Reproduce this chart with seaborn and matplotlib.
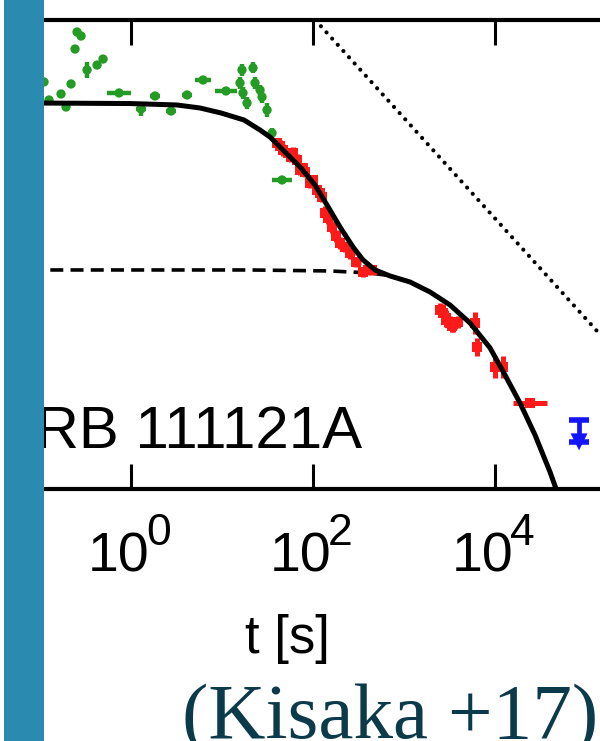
import numpy as np
import pandas as pd
import matplotlib
matplotlib.use("Agg")
import matplotlib.pyplot as plt
import seaborn as sns
from matplotlib.patches import Rectangle
from matplotlib.ticker import FixedLocator, NullLocator, NullFormatter
from matplotlib.transforms import blended_transform_factory, ScaledTranslation, Bbox, TransformedBbox

# ---------------- data (log10 values) ----------------
# optical (green) points: log10 t [s], log10 flux, half-widths in dex
green_logt = [-0.588, -0.544, -0.610, -0.478, -0.368, -0.302, -0.951, -0.654, -0.764, -0.896,
              -0.709, -0.126, 0.115, 0.269, 0.445, 0.621, 0.797, 1.049, 1.225, 1.346,
              1.203, 1.236, 1.280, 1.368, 1.423, 1.445, 1.500, 1.555, 1.665]
green_logf = [-7.132, -7.176, -7.319, -7.549, -7.495, -7.429, -7.681, -7.703, -7.813, -7.879,
              -7.956, -7.802, -7.978, -7.835, -8.000, -7.824, -7.659, -7.780, -7.549, -7.527,
              -7.692, -7.802, -7.912, -7.692, -7.769, -7.846, -7.989, -8.242, -8.758]
green_xerr = [0.02, 0.02, 0.02, 0.03, 0.03, 0.02, 0.03, 0.02, 0.02, 0.04,
              0.02, 0.13, 0.05, 0.05, 0.06, 0.05, 0.09, 0.12, 0.01, 0.01,
              0.03, 0.02, 0.01, 0.03, 0.02, 0.02, 0.01, 0.01, 0.11]
green_yerr = [0.03, 0.03, 0.03, 0.09, 0.04, 0.03, 0.03, 0.03, 0.03, 0.03,
              0.04, 0.03, 0.08, 0.04, 0.04, 0.04, 0.03, 0.03, 0.07, 0.06,
              0.07, 0.07, 0.07, 0.07, 0.06, 0.07, 0.08, 0.05, 0.03]

# X-ray (red) points
red_logt = [1.610, 1.643, 1.676, 1.731, 1.764, 1.786, 1.830, 1.863, 1.896, 1.918,
            1.973, 2.005, 2.049, 2.082, 2.104, 2.137, 2.170, 2.214, 2.258, 2.302,
            2.357, 2.412, 2.478, 2.555, 2.610, 2.654,
            3.401, 3.434, 3.467, 3.470, 3.511, 3.533, 3.540, 3.566, 3.599,
            3.786, 3.808, 4.005, 4.093, 4.390]
red_logf = [-8.352, -8.385, -8.429, -8.462, -8.505, -8.462, -8.538, -8.648, -8.626, -8.670,
            -8.791, -8.758, -8.868, -8.901, -8.945, -9.121, -9.176, -9.275, -9.374, -9.451,
            -9.495, -9.560, -9.659, -9.769, -9.747, -9.747,
            -10.187, -10.220, -10.297, -10.270, -10.330, -10.363, -10.360, -10.330, -10.319,
            -10.330, -10.593, -10.813, -10.813, -11.209]
red_xerr = [0.02, 0.03, 0.03, 0.03, 0.03, 0.03, 0.03, 0.02, 0.03, 0.03,
            0.03, 0.03, 0.03, 0.03, 0.03, 0.03, 0.03, 0.03, 0.03, 0.04,
            0.04, 0.05, 0.05, 0.06, 0.05, 0.05,
            0.04, 0.04, 0.04, 0.04, 0.05, 0.04, 0.04, 0.05, 0.04,
            0.03, 0.03, 0.04, 0.03, 0.19]
red_yerr = [0.06, 0.07, 0.07, 0.06, 0.06, 0.07, 0.06, 0.06, 0.06, 0.06,
            0.06, 0.06, 0.06, 0.06, 0.06, 0.08, 0.07, 0.07, 0.07, 0.07,
            0.06, 0.07, 0.06, 0.05, 0.05, 0.05,
            0.08, 0.10, 0.08, 0.08, 0.08, 0.07, 0.07, 0.07, 0.07,
            0.12, 0.10, 0.12, 0.12, 0.03]

# upper limit (blue): value and arrow length in dex
blue_logt = [4.929]
blue_logf = [-11.396]
blue_arrow = [0.24]

# model curves
total_logt = [-1.104, -0.005, 0.511, 0.764, 0.995, 1.247, 1.423, 1.533, 1.698, 1.863,
              2.027, 2.159, 2.302, 2.445, 2.555, 2.687, 2.852, 3.071, 3.291, 3.511,
              3.731, 3.951, 4.115, 4.280, 4.445, 4.610, 4.720]
total_logf = [-7.912, -7.918, -7.934, -7.967, -8.022, -8.099, -8.209, -8.286, -8.451, -8.615,
              -8.813, -9.033, -9.275, -9.495, -9.637, -9.747, -9.813, -9.879, -9.989, -10.132,
              -10.330, -10.604, -10.901, -11.209, -11.560, -11.967, -12.275]
second_logt = [-1.104, 1.313, 2.192, 2.632, 2.874]
second_logf = [-9.747, -9.747, -9.758, -9.780, -9.813]
ref_logt = [2.03, 5.40]
ref_logf = [-7.00, -10.72]

x_ticks = [1, 100, 10000]
tick_base = ["10", "10", "10"]
tick_exp = ["0", "2", "4"]
title_text = "GRB 111121A"
x_label = "t [s]"
credit = "(Kisaka +17)"

# ---------------- style ----------------
sns.set_theme(style="white")
plt.rcParams["font.family"] = ["Liberation Sans", "DejaVu Sans"]

W, H = 600, 741
fig = plt.figure(figsize=(W / 100, H / 100), dpi=100)
fig.patch.set_facecolor("white")
ax = fig.add_axes([44 / W, 1 - 489 / H, (615 - 44) / W, (489 - 20) / H])
ax.set_facecolor("white")
ax.set_xscale("log")
ax.set_yscale("log")
ax.set_xlim(10 ** -0.951, 10 ** 5.324)
ax.set_ylim(10 ** -12.154, 1e-7)


def asym(logv, err):
    logv = np.asarray(logv)
    err = np.asarray(err)
    v = 10 ** logv
    return np.vstack([v - 10 ** (logv - err), 10 ** (logv + err) - v])


# curves
sns.lineplot(x=10 ** np.array(ref_logt), y=10 ** np.array(ref_logf), color="black",
             lw=3.0, linestyle=(0, (0.01, 2.0)), dash_capstyle="round",
             estimator=None, sort=False, ax=ax)
sns.lineplot(x=10 ** np.array(second_logt), y=10 ** np.array(second_logf), color="black",
             lw=2.6, linestyle=(0, (3.6, 2.0)), estimator=None, sort=False, ax=ax)

# data points
gcol = "#249b24"
gt, gf = 10 ** np.array(green_logt), 10 ** np.array(green_logf)
ax.errorbar(gt, gf, xerr=asym(green_logt, green_xerr), yerr=asym(green_logf, green_yerr),
            fmt="none", ecolor=gcol, elinewidth=3.2, capsize=0, zorder=3)
sns.scatterplot(x=gt, y=gf, color=gcol, s=45, edgecolor="none", ax=ax, zorder=3)

rcol = "#ff1a1a"
rt, rf = 10 ** np.array(red_logt), 10 ** np.array(red_logf)
ax.errorbar(rt, rf, xerr=asym(red_logt, red_xerr), yerr=asym(red_logf, red_yerr),
            fmt="none", ecolor=rcol, elinewidth=3.6, capsize=0, zorder=3)
sns.scatterplot(x=rt, y=rf, color=rcol, s=45, marker="s", edgecolor="none", ax=ax, zorder=3)

bcol = "#1414ff"
bt, bf = 10 ** np.array(blue_logt), 10 ** np.array(blue_logf)
blow = 10 ** (np.array(blue_logf) - np.array(blue_arrow))
ax.errorbar(bt, bf, yerr=[bf - blow, np.zeros_like(bf)], fmt="none", ecolor=bcol,
            elinewidth=3.4, capsize=7, capthick=4, zorder=3)
sns.scatterplot(x=bt, y=blow, color=bcol, marker="v", s=150, edgecolor="none", ax=ax, zorder=3)

sns.lineplot(x=10 ** np.array(total_logt), y=10 ** np.array(total_logf), color="black",
             lw=3.6, estimator=None, sort=False, ax=ax, zorder=4)

# axes styling
for side in ("left", "right"):
    ax.spines[side].set_visible(False)
for side in ("top", "bottom"):
    ax.spines[side].set_linewidth(3.0)
    ax.spines[side].set_color("black")
ax.xaxis.set_major_locator(FixedLocator(x_ticks))
ax.xaxis.set_minor_locator(NullLocator())
ax.xaxis.set_major_formatter(NullFormatter())
ax.yaxis.set_major_locator(NullLocator())
ax.yaxis.set_minor_locator(NullLocator())
ax.tick_params(axis="x", which="major", direction="in", top=True, bottom=True,
               length=18, width=2.2, color="black", labelbottom=False)
ax.tick_params(axis="y", left=False, right=False, labelleft=False)

# tick labels as base + superscript texts
trans = blended_transform_factory(ax.transData, fig.transFigure)
for xt, b, e in zip(x_ticks, tick_base, tick_exp):
    ax.text(xt, 1 - 572 / H, b, fontsize=40, ha="center", va="baseline", color="black",
            transform=trans + ScaledTranslation(-11.5 / 100, 0, fig.dpi_scale_trans), clip_on=False)
    ax.text(xt, 1 - 545 / H, e, fontsize=32, ha="left", va="baseline", color="black",
            transform=trans + ScaledTranslation(15.5 / 100, 0, fig.dpi_scale_trans), clip_on=False)

ax.set_xlabel(x_label, fontsize=38, color="black")
ax.xaxis.label.set_va("baseline")
ax.xaxis.set_label_coords((287 - 44) / (615 - 44), (489 - 653) / (489 - 20))

title = fig.text(362 / W, 1 - 448 / H, title_text, fontsize=43.2, ha="right", va="baseline",
                 color="black")
title.set_clip_box(TransformedBbox(Bbox([[44 / W, 0], [1, 1]]), fig.transFigure))
title.set_clip_on(True)

fig.text(182 / W, 1 - 738 / H, credit, fontsize=57, ha="left", va="baseline",
         color="#0b3a4b", family=["Liberation Serif", "DejaVu Serif"])

fig.add_artist(Rectangle((4 / W, 0), 40 / W, 1, transform=fig.transFigure,
                         facecolor="#2a8ab0", edgecolor="none", zorder=10))

fig.savefig("out.png", dpi=100)
